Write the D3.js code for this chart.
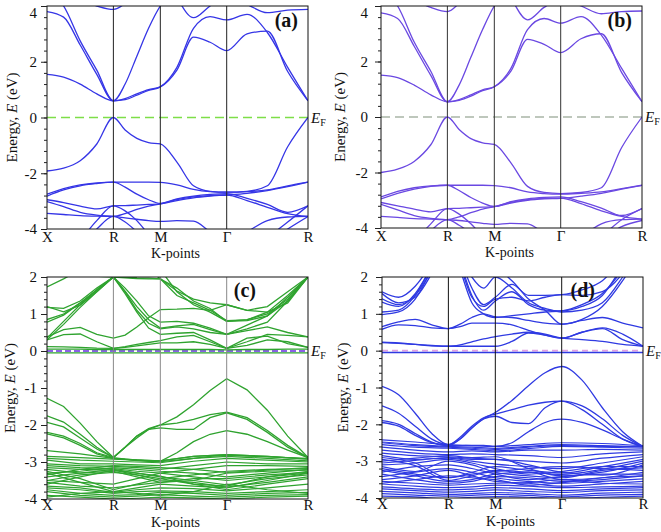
<!DOCTYPE html>
<html><head><meta charset="utf-8">
<script src="https://cdn.jsdelivr.net/npm/d3@7"></script>
<style>
body{margin:0;background:#fff}
</style>
</head><body>
<svg id="chart" width="661" height="532"></svg>
<script>
// ---------- shared k-path ----------
const kLabels = ["X", "R", "M", "\u0393", "R"];
const kPath = [0, 0.7071, 1.2071, 1.9142, 2.7802];   // cumulative path length

// ---------- panel (a) ----------
const aBands = [
  [-1.92,-1.82,-1.55,-0.95,0, -0.45,-0.75,-0.9,-0.95, -1.6,-2.45,-2.65,-2.68, -2.65,-2.45,-1.05,0],
  [-2.75,-2.55,-2.42,-2.35,-2.32, -2.32,-2.32,-2.32,-2.33, -2.42,-2.58,-2.66,-2.68, -2.66,-2.6,-2.45,-2.32],
  [-2.82,-2.6,-2.45,-2.37,-2.32, -2.5,-2.75,-2.95,-3.08, -2.92,-2.82,-2.76,-2.73, -2.9,-3.12,-3.4,-3.17],
  [-2.95,-3.05,-3.18,-3.28,-3.17, -3.16,-3.14,-3.12,-3.1, -2.98,-2.88,-2.82,-2.78, -2.72,-2.62,-2.48,-2.32],
  [-3.02,-3.2,-3.4,-3.5,-3.55, -3.6,-3.65,-3.7,-3.73, -3.7,-3.72,-4.1,-4.5, -4.1,-3.7,-3.57,-3.55],
  [-3.44,-3.48,-3.52,-3.54,-3.55, -3.45,-3.3,-3.18,-3.1, -2.95,-2.85,-2.8,-2.78, -2.98,-3.22,-3.45,-3.55],
  [-5.5,-5.0,-4.4,-3.7,-3.17, -3.35,-3.7,-4.2,-4.7, -5,-5,-5,-5, -4.7,-4.3,-3.75,-3.17],
  [-5.8,-5.2,-4.6,-4.0,-3.55, -3.75,-4.1,-4.5,-5, -5,-5,-5,-5.5, -5,-4.5,-4.0,-3.55],
  [1.55,1.45,1.2,0.85,0.6, 0.68,0.85,1.0,1.1, 1.7,2.88,2.7,2.4, 3.0,3.1,1.65,0.6],
  [3.8,3.6,2.6,1.55,0.6, 0.64,0.8,0.97,1.1, 1.8,3.2,3.62,3.5, 3.7,3.05,1.8,0.6],
  [4.6,4.0,2.75,1.7,0.6, 1.2,2.2,3.2,4.0, 4.6,5,5,5, 5,5,5,5],
  [4.6,4.4,4.2,4.0,3.88, 4.1,4.6,5,5.5, 4.3,3.58,4.0,4.3, 4.05,3.76,3.85,3.88]
];

// ---------- panel (b) ----------
const bBands = [
  [-2.0,-1.88,-1.6,-1.0,0, -0.45,-0.78,-0.93,-0.99, -1.65,-2.5,-2.72,-2.76, -2.72,-2.55,-1.1,0],
  [-2.88,-2.68,-2.55,-2.48,-2.46, -2.46,-2.46,-2.46,-2.47, -2.55,-2.7,-2.76,-2.78, -2.75,-2.7,-2.58,-2.46],
  [-2.95,-2.75,-2.6,-2.5,-2.46, -2.65,-2.9,-3.1,-3.22, -3.05,-2.95,-2.9,-2.88, -3.05,-3.28,-3.55,-3.3],
  [-3.08,-3.2,-3.32,-3.42,-3.3, -3.29,-3.27,-3.25,-3.23, -3.1,-3.0,-2.95,-2.93, -2.85,-2.75,-2.6,-2.46],
  [-3.15,-3.35,-3.55,-3.65,-3.7, -3.73,-3.78,-3.83,-3.87, -3.83,-3.85,-4.2,-4.6, -4.3,-3.85,-3.7,-3.68],
  [-3.58,-3.62,-3.66,-3.68,-3.7, -3.6,-3.45,-3.32,-3.23, -3.08,-2.98,-2.93,-2.92, -3.12,-3.38,-3.58,-3.68],
  [-5.6,-5.1,-4.5,-3.85,-3.3, -3.5,-3.85,-4.3,-4.8, -5,-5,-5,-5, -4.8,-4.3,-3.7,-3.3],
  [-6,-5.4,-4.7,-4.1,-3.7, -3.9,-4.2,-4.6,-5, -5,-5,-5,-5.2, -4.9,-4.4,-3.95,-3.73],
  [1.51,1.42,1.15,0.8,0.55, 0.63,0.8,0.98,1.09, 1.65,2.8,2.62,2.32, 2.82,3.0,1.6,0.55],
  [3.75,3.55,2.55,1.5,0.55, 0.6,0.75,0.95,1.09, 1.75,3.15,3.55,3.38, 3.62,2.95,1.75,0.55],
  [4.6,4.0,2.7,1.65,0.55, 1.15,2.15,3.15,4.0, 4.6,5,5,5, 5,5,5,5],
  [4.6,4.4,4.2,3.95,3.8, 4.1,4.6,5,5.5, 4.3,3.5,3.95,4.25, 4.0,3.72,3.8,3.82]
];

// ---------- panel (c) ----------
const cBands = [
  [-1.28,-1.5,-1.95,-2.45,-2.88, -2.6,-2.35,-2.12,-2.0, -1.78,-1.45,-1.07,-0.75, -1.05,-1.6,-2.3,-2.88],
  [-1.75,-1.92,-2.25,-2.6,-2.88, -2.6,-2.3,-2.1,-2.0, -1.95,-1.85,-1.72,-1.65, -1.8,-2.15,-2.55,-2.88],
  [-1.93,-2.05,-2.35,-2.65,-2.88, -2.6,-2.3,-2.12,-2.08, -2.12,-2.12,-1.8,-1.67, -1.85,-2.2,-2.6,-2.88],
  [-2.2,-2.3,-2.5,-2.75,-2.88, -2.92,-2.95,-2.97,-2.98, -2.75,-2.45,-2.25,-2.15, -2.25,-2.45,-2.68,-2.88],
  [-2.24,-2.35,-2.55,-2.78,-2.9, -2.93,-2.96,-2.98,-2.99, -2.95,-2.9,-2.85,-2.82, -2.84,-2.86,-2.88,-2.9],
  [-0.05,-0.05,-0.05,-0.05,-0.05, -0.05,-0.05,-0.05,-0.05, -0.05,-0.05,-0.05,-0.05, -0.05,-0.05,-0.05,-0.05],
  [0.05,0.05,0.05,0.04,0.04, 0.04,0.04,0.04,0.04, 0.04,0.04,0.04,0.03, 0.04,0.04,0.05,0.05],
  [0.12,0.11,0.1,0.08,0.07, 0.1,0.14,0.18,0.22, 0.22,0.25,0.18,0.07, 0.35,0.4,0.2,0.1],
  [0.3,0.44,0.46,0.25,0.07, 0.12,0.18,0.23,0.28, 0.38,0.42,0.25,0.07, 0.15,0.3,0.25,0.1],
  [0.38,0.58,0.64,0.45,0.35, 0.43,0.65,0.9,1.12, 1.13,1.15,1.1,1.25, 1.1,1.05,1.3,2.0],
  [0.35,0.8,1.25,1.65,2.0, 1.6,1.1,0.75,0.6, 0.65,0.6,0.5,0.45, 0.55,0.65,0.5,0.38],
  [0.3,0.72,1.18,1.6,2.0, 1.55,1.05,0.62,0.45, 0.48,0.5,0.3,0.07, 0.25,0.45,0.42,0.38],
  [0.78,0.97,1.3,1.65,2.0, 1.62,1.2,0.85,0.62, 0.68,0.72,0.58,0.45, 0.6,0.78,1.35,2.0],
  [1.2,1.06,1.24,1.6,2.0, 1.98,1.96,1.95,1.95, 1.7,1.35,1.15,0.8, 0.85,1.0,1.4,2.0],
  [1.18,1.15,1.35,1.7,2.0, 2.1,2.2,2.3,2.2, 1.6,1.25,1.05,0.8, 0.82,0.95,1.35,2.0],
  [1.73,1.95,2.2,2.1,2.0, 2.05,2.1,2.2,1.95, 1.5,1.3,1.1,0.82, 0.84,1.05,1.5,2.0],
  [2.05,2.05,2.05,2.02,2.0, 2.0,1.98,1.97,1.95, 1.62,1.4,1.3,1.25, 1.1,1.2,1.6,2.0],
  [0.85,1.0,1.3,1.65,2.0, 1.7,1.35,0.95,0.78, 0.8,0.75,0.62,0.45, 0.7,0.95,1.45,2.0]
];
// dense valence manifold of (c), sampled at X, mid, R, mid, M, mid, Γ, mid, R
const cCluster = [
  [-2.69,-2.78,-2.9,-2.94,-2.97,-2.85,-2.8,-2.85,-2.92],
  [-2.85,-2.88,-2.92,-2.95,-2.97,-2.85,-2.8,-2.85,-2.92],
  [-2.9,-2.95,-2.98,-3.0,-3.02,-2.9,-2.85,-2.9,-2.97],
  [-2.95,-3.05,-3.05,-3.08,-3.1,-2.98,-2.9,-2.95,-3.0],
  [-3.05,-3.1,-3.12,-3.15,-3.2,-3.1,-3.0,-3.05,-3.05],
  [-3.1,-3.15,-3.18,-3.25,-3.3,-3.2,-3.1,-3.1,-3.12],
  [-3.15,-3.2,-3.22,-3.35,-3.45,-3.35,-3.25,-3.2,-3.18],
  [-3.2,-3.3,-3.25,-3.4,-3.55,-3.5,-3.3,-3.25,-3.22],
  [-3.25,-3.45,-3.75,-3.6,-3.45,-3.6,-3.65,-3.4,-3.25],
  [-3.3,-3.55,-3.8,-3.7,-3.6,-3.65,-3.7,-3.5,-3.3],
  [-3.4,-3.3,-3.2,-3.3,-3.4,-3.5,-3.62,-3.45,-3.35],
  [-3.5,-3.35,-3.28,-3.35,-3.5,-3.55,-3.68,-3.55,-3.4],
  [-3.6,-3.4,-3.22,-3.3,-3.38,-3.6,-3.75,-3.6,-3.45],
  [-3.65,-3.7,-3.82,-3.75,-3.7,-3.72,-3.78,-3.7,-3.6],
  [-3.7,-3.75,-3.85,-3.8,-3.78,-3.8,-3.85,-3.8,-3.75],
  [-3.75,-3.85,-3.9,-3.88,-3.82,-3.85,-3.9,-3.85,-3.82],
  [-3.8,-3.9,-3.95,-3.92,-3.88,-3.92,-3.95,-3.9,-3.88],
  [-3.9,-3.95,-4.0,-3.98,-3.95,-3.97,-4.0,-3.95,-3.92],
  [-3.3,-3.25,-3.15,-3.2,-3.25,-3.3,-3.4,-3.3,-3.2],
  [-3.35,-3.2,-3.1,-3.12,-3.15,-3.2,-3.28,-3.22,-3.15],
  [-3.5,-3.55,-3.6,-3.45,-3.3,-3.4,-3.5,-3.4,-3.3],
  [-3.55,-3.65,-3.7,-3.62,-3.55,-3.45,-3.45,-3.35,-3.28],
  [-3.95,-3.85,-3.8,-3.85,-3.9,-3.8,-3.6,-3.75,-3.85]
];

// ---------- panel (d) ----------
const dBands = [
  [-0.97,-1.2,-1.7,-2.25,-2.55, -2.4,-2.1,-1.85,-1.68, -1.35,-0.95,-0.6,-0.43, -0.8,-1.55,-2.2,-2.6],
  [-1.5,-1.7,-2.05,-2.4,-2.55, -2.35,-2.05,-1.82,-1.72, -1.6,-1.48,-1.4,-1.37, -1.5,-1.85,-2.3,-2.6],
  [-1.9,-2.0,-2.25,-2.48,-2.57, -2.4,-2.1,-1.85,-1.78, -1.95,-1.98,-1.55,-1.37, -1.6,-2.0,-2.4,-2.6],
  [-1.95,-2.05,-2.3,-2.5,-2.58, -2.58,-2.57,-2.57,-2.6, -2.5,-2.2,-1.95,-1.86, -1.95,-2.15,-2.4,-2.6],
  [-0.05,-0.05,-0.05,-0.05,-0.05, -0.05,-0.05,-0.05,-0.05, -0.05,-0.05,-0.05,-0.05, -0.05,-0.05,-0.05,-0.05],
  [0.22,0.2,0.17,0.13,0.12, 0.12,0.12,0.12,0.12, 0.25,0.48,0.42,0.34, 0.5,0.6,0.3,0.12],
  [0.23,0.21,0.17,0.14,0.12, 0.16,0.24,0.32,0.38, 0.45,0.5,0.45,0.34, 0.3,0.25,0.17,0.12],
  [0.58,0.7,0.68,0.62,0.6, 0.65,0.75,0.75,0.75, 0.7,0.55,0.42,0.34, 0.5,0.62,0.45,0.12],
  [0.65,0.78,0.85,0.7,0.6, 0.72,0.9,1.0,0.92, 0.9,0.82,0.75,0.72, 0.82,0.9,0.75,0.62],
  [0.98,1.05,1.4,2.2,3.0, 2.8,2.5,2.2,2.2, 1.9,1.4,1.1,0.72, 0.85,1.2,1.9,2.8],
  [1.05,1.1,1.5,2.3,3.2, 2.6,2.0,1.7,2.0, 1.7,1.3,1.15,1.05, 1.1,1.3,2.0,2.9],
  [1.32,1.2,1.55,2.3,3.2, 2.4,1.5,1.1,1.35, 1.6,1.25,1.1,1.08, 1.2,1.5,2.3,3.1],
  [1.41,1.25,1.5,2.2,3.1, 2.2,1.3,1.0,0.9, 0.95,1.0,1.05,1.08, 1.25,1.55,2.2,3.0],
  [1.55,1.3,1.45,2.1,3.0, 2.3,1.45,1.2,1.4, 1.45,1.35,1.45,1.52, 1.5,1.6,2.1,3.0],
  [1.6,1.45,1.75,2.4,3.3, 2.5,1.7,1.25,1.45, 1.8,1.5,1.5,1.52, 1.65,1.9,2.5,3.2]
];
const dCluster = [
  [-2.42,-2.48,-2.55,-2.58,-2.6,-2.55,-2.5,-2.52,-2.58],
  [-2.48,-2.55,-2.6,-2.62,-2.65,-2.6,-2.55,-2.58,-2.62],
  [-2.5,-2.58,-2.62,-2.65,-2.68,-2.62,-2.58,-2.6,-2.6],
  [-2.55,-2.62,-2.65,-2.68,-2.72,-2.66,-2.6,-2.62,-2.65],
  [-2.62,-2.7,-2.75,-2.72,-2.75,-2.7,-2.7,-2.68,-2.7],
  [-2.7,-2.78,-2.82,-2.8,-2.82,-2.85,-2.9,-2.8,-2.75],
  [-2.78,-2.85,-2.88,-2.92,-2.95,-3.0,-3.05,-2.92,-2.82],
  [-2.85,-2.95,-2.92,-3.0,-3.08,-3.15,-3.2,-3.05,-2.88],
  [-2.9,-3.05,-3.45,-3.3,-3.15,-3.25,-3.32,-3.15,-2.95],
  [-2.95,-3.12,-3.52,-3.4,-3.25,-3.3,-3.36,-3.22,-3.0],
  [-3.0,-2.92,-2.85,-2.9,-2.88,-3.2,-3.4,-3.3,-3.05],
  [-3.05,-2.98,-2.9,-2.95,-2.95,-3.1,-3.3,-3.38,-3.1],
  [-3.1,-3.05,-2.95,-3.05,-3.2,-3.35,-3.28,-3.15,-3.15],
  [-3.15,-3.28,-3.0,-3.1,-3.3,-3.4,-3.45,-3.25,-3.18],
  [-3.2,-3.35,-3.45,-3.35,-3.28,-3.2,-3.15,-3.2,-3.25],
  [-3.25,-3.4,-3.55,-3.5,-3.35,-3.3,-3.5,-3.45,-3.3],
  [-3.3,-3.15,-3.1,-3.2,-3.35,-3.5,-3.42,-3.35,-3.35],
  [-3.35,-3.5,-3.6,-3.55,-3.42,-3.45,-3.55,-3.5,-3.4],
  [-3.42,-3.3,-3.2,-3.3,-3.45,-3.55,-3.6,-3.55,-3.48],
  [-3.5,-3.4,-3.25,-3.4,-3.55,-3.6,-3.68,-3.62,-3.55],
  [-3.55,-3.6,-3.65,-3.62,-3.6,-3.58,-3.5,-3.6,-3.62],
  [-3.6,-3.5,-3.4,-3.45,-3.5,-3.65,-3.58,-3.45,-3.4],
  [-3.62,-3.68,-3.72,-3.7,-3.65,-3.68,-3.72,-3.7,-3.68],
  [-3.7,-3.75,-3.78,-3.76,-3.72,-3.75,-3.8,-3.75,-3.72],
  [-3.75,-3.8,-3.84,-3.82,-3.78,-3.82,-3.85,-3.8,-3.78],
  [-3.82,-3.86,-3.9,-3.88,-3.85,-3.88,-3.92,-3.87,-3.84],
  [-3.88,-3.92,-3.95,-3.93,-3.9,-3.93,-3.97,-3.92,-3.9],
  [-3.95,-3.97,-4.02,-3.98,-3.96,-3.98,-4.02,-3.98,-3.95]
];

// ---------- axis tick values ----------
const ticksAB = [-4, -2, 0, 2, 4];
const ticksCD = [-4, -3, -2, -1, 0, 1, 2];

// ---------- drawing ----------
const SERIF = "'Liberation Serif','DejaVu Serif','Times New Roman',serif";
function kGrid(perSeg) {
  const g = [];
  for (let s = 0; s < 4; s++)
    for (let j = 0; j < perSeg; j++) g.push(kPath[s] + (kPath[s + 1] - kPath[s]) * j / perSeg);
  g.push(kPath[4]);
  return g;
}
const grid17 = kGrid(4), grid9 = kGrid(2);

const svg = d3.select("#chart");

const panels = [
  {tag:"(a)", x0:47, x1:308, y0:6, y1:229, dom:[-4,4], ticks:ticksAB, minorStep:0.4,
   bands:aBands, cluster:[], color:"#3535e6", ef:"#7ede48", efW:1.6, dash:"9,5", vline:"#222",
   curve:d3.curveMonotoneX, tagX:298, tagY:27, ylab:30, ypad:4, xpad:2, kp:28.5},
  {tag:"(b)", x0:381, x1:642, y0:6, y1:228, dom:[-4,4], ticks:ticksAB, minorStep:0.4,
   bands:bBands, cluster:[], color:"#6a48e2", ef:"#a9b5a6", efW:1.4, dash:"9,5", vline:"#333",
   curve:d3.curveMonotoneX, tagX:632, tagY:27, ylab:36, ypad:7, xpad:2, kp:28.5},
  {tag:"(c)", x0:47, x1:308, y0:277, y1:499, dom:[-4,2], ticks:ticksCD, minorStep:0.2,
   bands:cBands, cluster:cCluster, color:"#2fa32f", ef:"#8a62e6", efW:1.8, dash:"6,3", vline:"#888",
   curve:d3.curveLinear, tagX:256, tagY:297, ylab:32, ypad:4, xpad:0.5, kp:28},
  {tag:"(d)", x0:382, x1:643, y0:277, y1:498, dom:[-4,2], ticks:ticksCD, minorStep:0.2,
   bands:dBands, cluster:dCluster, color:"#2f3ae2", ef:"#e0a2e2", efW:1.6, dash:"6,4", vline:"#111",
   curve:d3.curveMonotoneX, tagX:595, tagY:297, ylab:34, ypad:8, xpad:0.5, kp:28}
];

panels.forEach((p, pi) => {
  const x = d3.scaleLinear().domain([0, kPath[4]]).range([p.x0, p.x1]);
  const y = d3.scaleLinear().domain(p.dom).range([p.y1, p.y0]);
  const g = svg.append("g").style("font-family", SERIF);
  const clipId = "clip" + pi;
  g.append("clipPath").attr("id", clipId).append("rect")
    .attr("x", p.x0).attr("y", p.y0).attr("width", p.x1 - p.x0).attr("height", p.y1 - p.y0);
  const plot = g.append("g").attr("clip-path", `url(#${clipId})`);

  // Fermi level
  plot.append("line").attr("x1", p.x0).attr("x2", p.x1).attr("y1", y(0)).attr("y2", y(0))
    .attr("stroke", p.ef).attr("stroke-width", p.efW).attr("stroke-dasharray", p.dash);

  const line17 = d3.line().x((d, i) => x(grid17[i])).y(d => y(d)).curve(p.curve);
  const line9 = d3.line().x((d, i) => x(grid9[i])).y(d => y(d)).curve(p.curve);
  plot.selectAll("path.cl").data(p.cluster).join("path").attr("class", "cl")
    .attr("d", line9).attr("fill", "none").attr("stroke", p.color).attr("stroke-width", 1.2);
  plot.selectAll("path.bd").data(p.bands).join("path").attr("class", "bd")
    .attr("d", line17).attr("fill", "none").attr("stroke", p.color).attr("stroke-width", 1.3);

  // high-symmetry vertical lines
  g.selectAll("line.hs").data(kPath.slice(1, 4)).join("line").attr("class", "hs")
    .attr("x1", d => x(d)).attr("x2", d => x(d)).attr("y1", p.y0).attr("y2", p.y1)
    .attr("stroke", p.vline).attr("stroke-width", 1);

  // frame
  g.append("rect").attr("x", p.x0).attr("y", p.y0).attr("width", p.x1 - p.x0).attr("height", p.y1 - p.y0)
    .attr("fill", "none").attr("stroke", "#111").attr("stroke-width", 1);

  // y axis: major + minor ticks
  const minor = d3.range(p.dom[0], p.dom[1] + 1e-6, p.minorStep);
  const minorAxis = d3.axisLeft(y).tickValues(minor).tickSize(3).tickFormat("");
  g.append("g").attr("transform", `translate(${p.x0},0)`).call(minorAxis)
    .call(s => s.select(".domain").remove()).selectAll("line").attr("stroke", "#222");
  const yAxis = d3.axisLeft(y).tickValues(p.ticks).tickSize(6).tickPadding(p.ypad).tickFormat(d => String(d));
  const ya = g.append("g").attr("transform", `translate(${p.x0},0)`).call(yAxis);
  ya.attr("font-family", null);
  ya.select(".domain").remove();
  ya.selectAll("line").attr("stroke", "#222");
  ya.selectAll("text").style("font-family", SERIF).attr("font-size", 15).attr("fill", "#111")
    .attr("dy", d => (d === p.dom[1] && p.dom[1] === 4) ? "0.75em" : "0.32em");

  // x axis labels
  const xAxis = d3.axisBottom(x).tickValues(kPath).tickSize(0).tickPadding(p.xpad).tickFormat((d, i) => kLabels[i]);
  const xa = g.append("g").attr("transform", `translate(0,${p.y1})`).call(xAxis);
  xa.attr("font-family", null);
  xa.select(".domain").remove();
  xa.selectAll("text").style("font-family", SERIF).attr("font-size", 15).attr("fill", "#111");

  // axis titles
  g.append("text").attr("x", (p.x0 + p.x1) / 2 - 2).attr("y", p.y1 + p.kp)
    .attr("text-anchor", "middle").attr("font-size", 14).attr("fill", "#111").text("K-points");
  const yt = g.append("text").attr("transform", `translate(${p.x0 - p.ylab},${(p.y0 + p.y1) / 2}) rotate(-90)`)
    .attr("text-anchor", "middle").attr("font-size", 15).attr("fill", "#111");
  yt.append("tspan").text("Energy, ");
  yt.append("tspan").attr("font-style", "italic").text("E");
  yt.append("tspan").text(" (eV)");

  // E_F label
  const ef = g.append("text").attr("x", p.x1 + 3).attr("y", y(0) + 5).attr("font-size", 15).attr("fill", "#111");
  ef.append("tspan").attr("font-style", "italic").text("E");
  ef.append("tspan").attr("font-size", 10).attr("dy", 3).text("F");

  // panel tag
  g.append("text").attr("x", p.tagX).attr("y", p.tagY).attr("text-anchor", "end")
    .attr("font-size", 20).attr("font-weight", "bold").attr("fill", "#111").text(p.tag);
});
</script>
</body></html>
